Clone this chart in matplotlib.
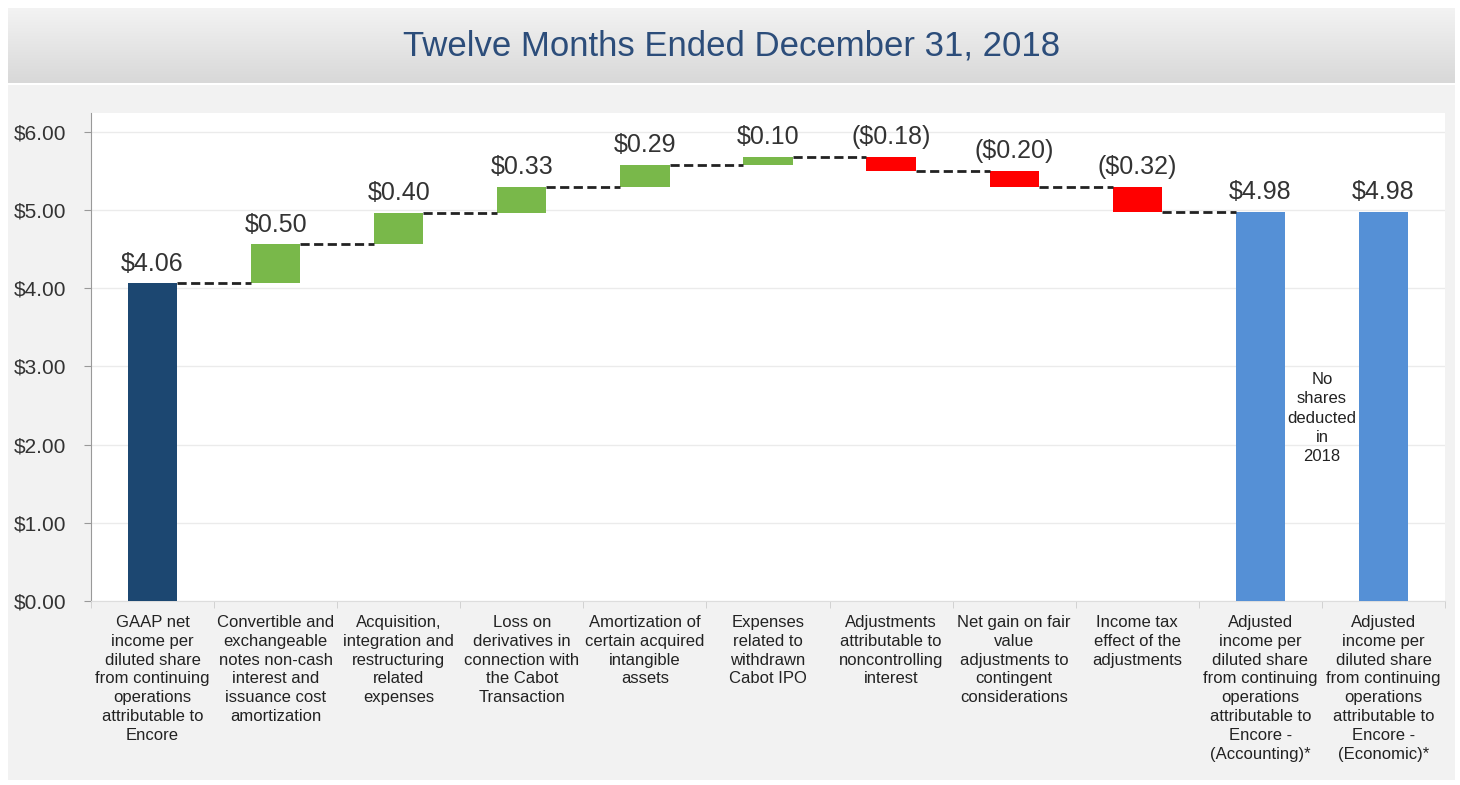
import numpy as np
import matplotlib
matplotlib.use("Agg")
import matplotlib.pyplot as plt
from matplotlib.patches import Rectangle

plt.rcParams['font.family'] = ['Liberation Sans', 'DejaVu Sans']

# data
categories = [
    "GAAP net\nincome per\ndiluted share\nfrom continuing\noperations\nattributable to\nEncore",
    "Convertible and\nexchangeable\nnotes non-cash\ninterest and\nissuance cost\namortization",
    "Acquisition,\nintegration and\nrestructuring\nrelated\nexpenses",
    "Loss on\nderivatives in\nconnection with\nthe Cabot\nTransaction",
    "Amortization of\ncertain acquired\nintangible\nassets",
    "Expenses\nrelated to\nwithdrawn\nCabot IPO",
    "Adjustments\nattributable to\nnoncontrolling\ninterest",
    "Net gain on fair\nvalue\nadjustments to\ncontingent\nconsiderations",
    "Income tax\neffect of the\nadjustments",
    "Adjusted\nincome per\ndiluted share\nfrom continuing\noperations\nattributable to\nEncore -\n(Accounting)*",
    "Adjusted\nincome per\ndiluted share\nfrom continuing\noperations\nattributable to\nEncore -\n(Economic)*",
]
values = [4.06, 0.50, 0.40, 0.33, 0.29, 0.10, -0.18, -0.20, -0.32, 4.98, 4.98]
kinds = ["start", "step", "step", "step", "step", "step", "step", "step", "step", "total", "total"]
value_labels = ["$4.06", "$0.50", "$0.40", "$0.33", "$0.29", "$0.10",
                "($0.18)", "($0.20)", "($0.32)", "$4.98", "$4.98"]
yticks = [0, 1, 2, 3, 4, 5, 6]
ytick_labels = ["$0.00", "$1.00", "$2.00", "$3.00", "$4.00", "$5.00", "$6.00"]
title = "Twelve Months Ended December 31, 2018"
note = "No\nshares\ndeducted\nin\n2018"

navy = "#1c4771"
green = "#79b84a"
red = "#ff0000"
lblue = "#5590d6"

fig = plt.figure(figsize=(14.6, 7.85), dpi=100, facecolor="white")

# gray panel behind chart
fig.patches.append(Rectangle((8 / 1460, 5 / 785), 1447 / 1460, 695 / 785,
                             transform=fig.transFigure, facecolor="#f2f2f2",
                             edgecolor="none", zorder=-5))
# title banner gradient
bax = fig.add_axes([8 / 1460, 1 - 83 / 785, 1447 / 1460, 75 / 785])
grad = np.linspace(0, 1, 100).reshape(-1, 1)
bax.imshow(grad, aspect="auto", cmap=matplotlib.colors.LinearSegmentedColormap.from_list(
    "g", ["#f3f3f3", "#d8d8d8"]), extent=[0, 1, 0, 1])
bax.set_xlim(0, 1)
bax.set_ylim(0, 1)
bax.axis("off")
bax.text(0.5, 0.5, title, ha="center", va="center", fontsize=25, color="#2c4d7a")

ax = fig.add_axes([91 / 1460, 1 - 601 / 785, 1354 / 1460, 488 / 785])
ax.set_facecolor("white")

x = np.arange(len(values))
width = 0.4
bottoms = []
heights = []
colors = []
level = 0
for v, k in zip(values, kinds):
    if k == "start":
        bottoms.append(0); heights.append(v); colors.append(navy); level = v
    elif k == "total":
        bottoms.append(0); heights.append(v); colors.append(lblue)
    else:
        bottoms.append(level); heights.append(v)
        colors.append(green if v >= 0 else red)
        level = round(level + v, 2)
ax.bar(x, heights, width, bottom=bottoms, color=colors, zorder=3)

# connectors
level = 0
for i, (v, k) in enumerate(zip(values, kinds)):
    if k == "total":
        break
    level = v if k == "start" else round(level + v, 2)
    ax.plot([x[i] + width / 2, x[i + 1] - width / 2], [level, level],
            color="#222222", lw=2, ls=(0, (3.3, 1.6)), zorder=4)

# value labels
for i in range(len(values)):
    top = max(bottoms[i], bottoms[i] + heights[i])
    ax.text(x[i], top + 0.1, value_labels[i], ha="center", va="bottom",
            fontsize=18, color="#333333", zorder=5)

ax.text((x[-2] + x[-1]) / 2, 2.34, note, ha="center", va="center",
        fontsize=12, color="#222222", linespacing=1.35, zorder=5)

ax.set_xlim(-0.5, len(values) - 0.5)
ax.set_ylim(0, 6.24)
ax.set_yticks(yticks)
ax.set_yticklabels(ytick_labels, fontsize=15, color="#333333")
ax.set_xticks(x)
ax.set_xticklabels(categories, fontsize=12, color="#222222", linespacing=1.32, va="top")
ax.tick_params(axis="x", length=0, pad=10)
ax.set_xticks(np.arange(-0.5, len(values)), minor=True)
ax.tick_params(axis="x", which="minor", length=5, color="#cccccc")
ax.tick_params(axis="y", length=5, color="#999999", pad=13)
ax.grid(axis="y", color="#ebebeb", lw=1, zorder=0)
for s in ["top", "right"]:
    ax.spines[s].set_visible(False)
ax.spines["left"].set_color("#999999")
ax.spines["bottom"].set_color("#dddddd")

fig.savefig("out.png", dpi=100, facecolor=fig.get_facecolor())
